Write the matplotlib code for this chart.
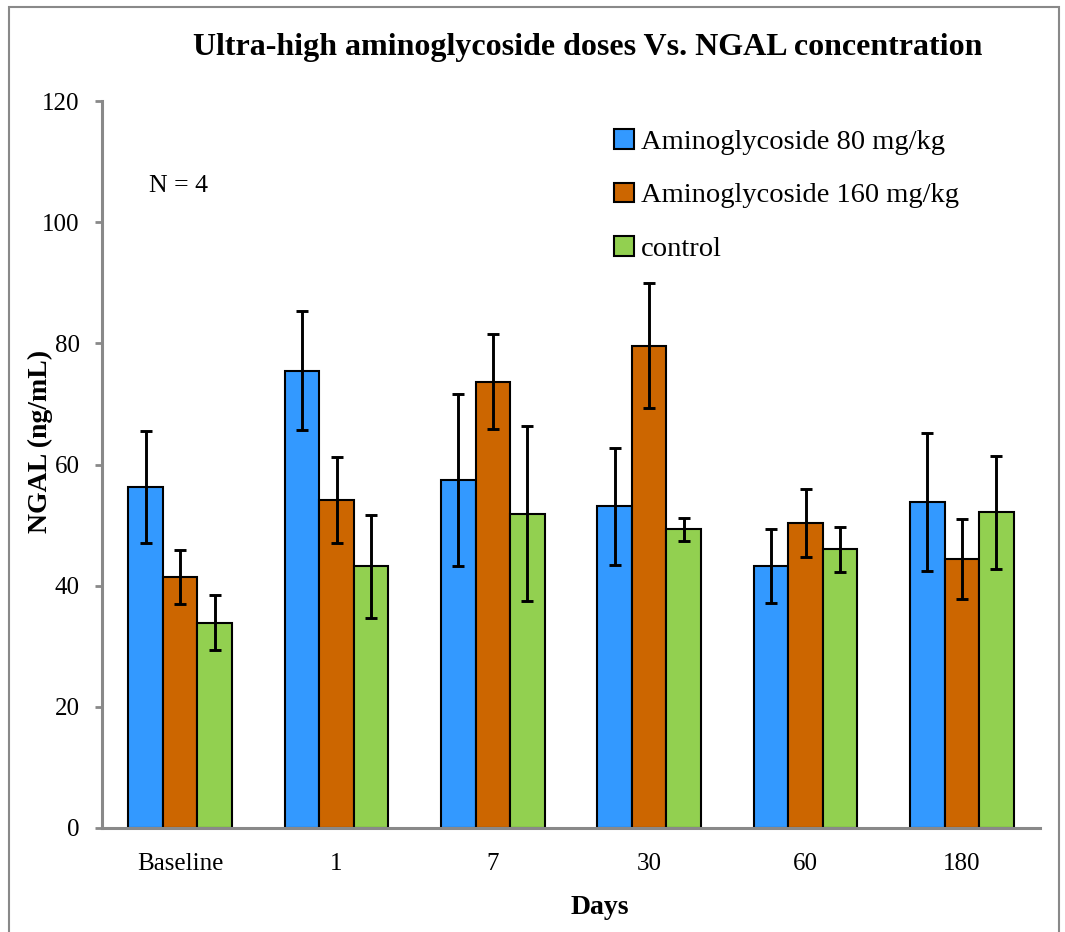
import matplotlib
matplotlib.use("Agg")
import matplotlib.pyplot as plt
from matplotlib.patches import Patch, Rectangle
import numpy as np

plt.rcParams['font.family'] = ['Liberation Serif', 'DejaVu Serif']

categories = ["Baseline", "1", "7", "30", "60", "180"]
series_names = ["Aminoglycoside 80 mg/kg", "Aminoglycoside 160 mg/kg", "control"]
dose80 = [56.3, 75.5, 57.5, 53.1, 43.2, 53.8]
dose80_err = [9.2, 9.8, 14.2, 9.7, 6.1, 11.4]
dose160 = [41.4, 54.1, 73.7, 79.6, 50.3, 44.4]
dose160_err = [4.5, 7.1, 7.8, 10.3, 5.6, 6.6]
control = [33.9, 43.2, 51.9, 49.3, 46.0, 52.1]
control_err = [4.6, 8.5, 14.5, 1.9, 3.7, 9.3]
colors = ["#3399FF", "#CC6600", "#92D050"]
yticks = [0, 20, 40, 60, 80, 100, 120]

W, H = 1065, 932
fig = plt.figure(figsize=(W / 100, H / 100), dpi=100)
ax = fig.add_axes([0.0958, 0.1116, 0.8808, 0.78])

x = np.arange(len(categories))
width = 0.221
values = [dose80, dose160, control]
errors = [dose80_err, dose160_err, control_err]
for k, (vals, errs, col) in enumerate(zip(values, errors, colors)):
    pos = x + (k - 1) * width
    ax.bar(pos, vals, width=width, color=col, edgecolor="black", linewidth=1.5, zorder=2)
    ax.errorbar(pos, vals, yerr=errs, fmt="none", ecolor="black", elinewidth=2.1,
                capsize=4.3, capthick=2.1, zorder=3)

ax.set_xlim(-0.5, len(categories) - 0.5)
ax.set_ylim(0, 120)
ax.set_yticks(yticks)
ax.set_yticklabels([str(t) for t in yticks], fontsize=18)
ax.set_xticks(x)
ax.set_xticklabels(categories, fontsize=18)
ax.tick_params(axis="x", length=0, pad=18)
ax.tick_params(axis="y", length=5, width=2, color="#898989", direction="out", pad=11)

for side in ["top", "right"]:
    ax.spines[side].set_visible(False)
for side in ["left", "bottom"]:
    ax.spines[side].set_color("#898989")
    ax.spines[side].set_linewidth(2.2)

# axis titles
fig.text(40 / W, 1 - 441 / H, "NGAL (ng/mL)", rotation=90, ha="center", va="center",
         fontsize=20, fontweight="bold")
fig.text(600 / W, 1 - 908 / H, "Days", ha="center", va="center",
         fontsize=20, fontweight="bold")

fig.text(588 / W, 1 - 47 / H, "Ultra-high aminoglycoside doses Vs. NGAL concentration",
         ha="center", va="center", fontsize=23, fontweight="bold")
fig.text(149 / W, 1 - 186 / H, "N = 4", ha="left", va="center", fontsize=18.5)

handles = [Patch(facecolor=c, edgecolor="black", linewidth=1.5) for c in colors]
leg = fig.legend(handles, series_names, loc="upper left", bbox_to_anchor=(614 / W, 1 - 129 / H),
                 frameon=False, fontsize=20.5, handlelength=0.7, handleheight=0.7,
                 handletextpad=0.25, labelspacing=0.97, borderaxespad=0, borderpad=0)

fig.patches.append(Rectangle((0.0085, -0.01), 0.986, 1.0025, transform=fig.transFigure,
                             fill=False, edgecolor="#898989", linewidth=1.5))

fig.savefig("out.png", dpi=100)
